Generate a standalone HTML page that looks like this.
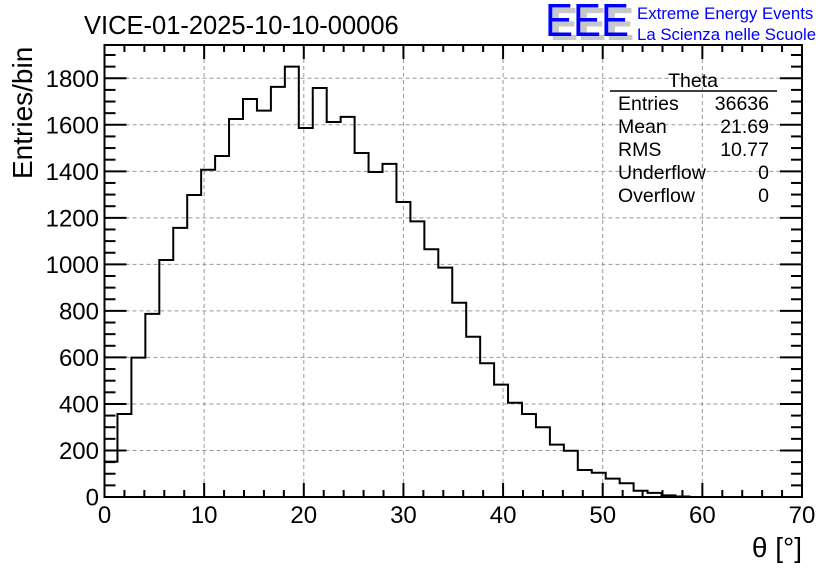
<!DOCTYPE html>
<html><head><meta charset="utf-8"><style>
body{margin:0;background:#fff;}
svg{display:block;font-family:"Liberation Sans",Arial,sans-serif;}
</style></head><body>
<svg id="chart" width="836" height="572" viewBox="0 0 836 572" xmlns="http://www.w3.org/2000/svg">
<rect width="836" height="572" fill="#fff"/>
<text x="84" y="34" font-size="25.5">VICE-01-2025-10-10-00006</text>
<g>
<text x="550" y="40" font-size="46" fill="#c8c8c8" font-weight="bold" textLength="84" lengthAdjust="spacingAndGlyphs">EEE</text>
<text x="545" y="36" font-size="46" fill="#0000ff" textLength="84" lengthAdjust="spacingAndGlyphs">EEE</text>
<text x="637" y="19" font-size="16.8" fill="#0000ff">Extreme Energy Events</text>
<text x="637" y="40" font-size="16.8" fill="#0000ff">La Scienza nelle Scuole</text>
</g>
<g id="grid"></g>
<g id="hist"></g>
<g id="axes"></g>
<text transform="translate(32,179) rotate(-90)" font-size="28" text-anchor="start">Entries/bin</text>
<text x="802" y="557" font-size="28" text-anchor="end">θ [°]</text>
<g font-size="19.5">
<text x="693" y="87" text-anchor="middle">Theta</text>
<line x1="610" y1="91" x2="777" y2="91" stroke="#000" stroke-width="1.5"/>
<text x="618" y="110">Entries</text><text x="769" y="110" text-anchor="end">36636</text>
<text x="618" y="133">Mean</text><text x="769" y="133" text-anchor="end">21.69</text>
<text x="618" y="156">RMS</text><text x="769" y="156" text-anchor="end">10.77</text>
<text x="618" y="179">Underflow</text><text x="769" y="179" text-anchor="end">0</text>
<text x="618" y="202">Overflow</text><text x="769" y="202" text-anchor="end">0</text>
</g>
</svg>
<script>
const binStart = -0.1;
const binWidth = 1.4;
const counts = [152,357,599,787,1019,1157,1298,1407,1466,1625,1711,1661,1763,1850,1586,1758,1612,1634,1479,1397,1432,1268,1185,1065,986,835,689,575,483,405,357,300,225,199,116,104,79,59,27,18,7,2,0];
const xTicks = [0,10,20,30,40,50,60,70];
const yTicks = [0,200,400,600,800,1000,1200,1400,1600,1800];
const X0=104.5,X1=802,Y0=497,Y1=45,XMAX=70,YMAX=1943;
const sx=v=>X0+(v/XMAX)*(X1-X0);
const sy=v=>Y0-(v/YMAX)*(Y0-Y1);
const NS="http://www.w3.org/2000/svg";
function mk(tag,attrs,parent){const e=document.createElementNS(NS,tag);for(const k in attrs)e.setAttribute(k,attrs[k]);parent.appendChild(e);return e;}
const grid=document.getElementById('grid'),hist=document.getElementById('hist'),axes=document.getElementById('axes');
xTicks.forEach(t=>{if(t>0&&t<XMAX){const l=mk('line',{x1:sx(t),x2:sx(t),y1:Y1,y2:Y0,stroke:'#999','stroke-dasharray':'4,3','stroke-width':1},grid);

}});
yTicks.forEach(t=>{if(t>0){const l=mk('line',{x1:X0,x2:X1,y1:sy(t),y2:sy(t),stroke:'#999','stroke-dasharray':'4,3','stroke-width':1},grid);

}});
let d='M'+sx(0)+','+sy(0);
counts.forEach((c,i)=>{let a=Math.max(0,binStart+i*binWidth),b=Math.min(XMAX,binStart+(i+1)*binWidth);d+=' L'+sx(a)+','+sy(c)+' L'+sx(b)+','+sy(c);});
const p=mk('path',{d:d,fill:'none',stroke:'#000','stroke-width':2},hist);


const fr=mk('rect',{x:X0,y:Y1,width:X1-X0,height:Y0-Y1,fill:'none',stroke:'#000','stroke-width':2},axes);


for(let v=0;v<=XMAX;v+=2){const big=v%10===0;const L=big?14:7;
mk('line',{x1:sx(v),x2:sx(v),y1:Y0,y2:Y0-L,stroke:'#000','stroke-width':2},axes);
mk('line',{x1:sx(v),x2:sx(v),y1:Y1,y2:Y1+L,stroke:'#000','stroke-width':2},axes);}
for(let v=0;v<=YMAX;v+=50){const big=v%200===0;const L=big?22:11;
mk('line',{x1:X0,x2:X0+L,y1:sy(v),y2:sy(v),stroke:'#000','stroke-width':2},axes);
mk('line',{x1:X1,x2:X1-L,y1:sy(v),y2:sy(v),stroke:'#000','stroke-width':2},axes);}
xTicks.forEach(t=>{const e=mk('text',{x:sx(t),y:523,'font-size':24,'text-anchor':'middle'},axes);e.textContent=t;

});
yTicks.forEach(t=>{const e=mk('text',{x:99,y:sy(t)+8.5,'font-size':24,'text-anchor':'end'},axes);e.textContent=t;

});
</script>
</body></html>
